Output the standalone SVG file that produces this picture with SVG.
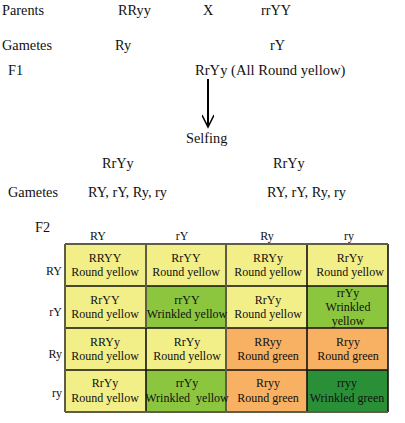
<svg xmlns="http://www.w3.org/2000/svg" width="405" height="423" viewBox="0 0 405 423">
<style>
text{font-family:"Liberation Serif","Times New Roman",serif;fill:#111;}
.t{font-size:14.3px;}
.h{font-size:12px;}
.c{font-size:12px;text-anchor:middle;}
.y{fill:#f2ee88;}
.g{fill:#8cc63e;}
.o{fill:#f8b062;}
.d{fill:#2a9038;}
.gl{stroke:#5e5e48;stroke-width:2;fill:none;}
.bl{stroke:#111;stroke-width:1.6;fill:none;}
</style>
<defs>
<marker id="ah" markerWidth="16" markerHeight="12" refX="13" refY="6" orient="auto" markerUnits="userSpaceOnUse">
<path d="M1,0 L13,6 L1,12" fill="none" stroke="#000" stroke-width="1.5"/>
</marker>
</defs>
<rect width="405" height="423" fill="#fff"/>
<g id="header">
<text class="t" x="2" y="15">Parents</text>
<text class="t" x="118" y="15">RRyy</text>
<text class="t" x="203" y="15">X</text>
<text class="t" x="261" y="15">rrYY</text>
<text class="t" x="2" y="50">Gametes</text>
<text class="t" x="115" y="50">Ry</text>
<text class="t" x="270" y="50">rY</text>
<text class="t" x="8" y="75">F1</text>
<text class="t" x="195" y="75" style="font-size:14.6px">RrYy (All Round yellow)</text>
<text class="t" x="186" y="143">Selfing</text>
<text class="t" x="102" y="168">RrYy</text>
<text class="t" x="273" y="168">RrYy</text>
<text class="t" x="8" y="197">Gametes</text>
<text class="t" x="88" y="197">RY, rY, Ry, ry</text>
<text class="t" x="267" y="197">RY, rY, Ry, ry</text>
</g>
<g id="connectors">
<line x1="208" y1="79" x2="208" y2="127" stroke="#000" stroke-width="2" marker-end="url(#ah)"/>
</g>
<g id="labels">
<text class="t" x="35" y="232">F2</text>
<text class="c" x="98" y="240">RY</text>
<text class="c" x="182" y="240">rY</text>
<text class="c" x="267" y="240">Ry</text>
<text class="c" x="349" y="240">ry</text>
<text class="h" x="62" y="275" text-anchor="end">RY</text>
<text class="h" x="62" y="316" text-anchor="end">rY</text>
<text class="h" x="62" y="358" text-anchor="end">Ry</text>
<text class="h" x="62" y="397" text-anchor="end">ry</text>
</g>
<g id="cells">
<rect class="y" x="65" y="244" width="81" height="42"/>
<rect class="y" x="146" y="244" width="80" height="42"/>
<rect class="y" x="226" y="244" width="81" height="42"/>
<rect class="y" x="307" y="244" width="81" height="42"/>
<rect class="y" x="65" y="286" width="81" height="42"/>
<rect class="g" x="146" y="286" width="80" height="42"/>
<rect class="y" x="226" y="286" width="81" height="42"/>
<rect class="g" x="307" y="286" width="81" height="42"/>
<rect class="y" x="65" y="328" width="81" height="42"/>
<rect class="y" x="146" y="328" width="80" height="42"/>
<rect class="o" x="226" y="328" width="81" height="42"/>
<rect class="o" x="307" y="328" width="81" height="42"/>
<rect class="y" x="65" y="370" width="81" height="42"/>
<rect class="g" x="146" y="370" width="80" height="42"/>
<rect class="o" x="226" y="370" width="81" height="42"/>
<rect class="d" x="307" y="370" width="81" height="42"/>
</g>
<g id="grid">
<path class="bl" d="M65,286 H388 M65,328 H388 M65,370 H388 M146,328 V412 M307,244 V412 M388,244 V412"/>
<path class="gl" d="M146,244 V328 M226,244 V412 M65,244 H388 M65,244 V412 M65,412 H388"/>
</g>
<g id="cell-text">
<text class="c" x="105" y="262">RRYY</text><text class="c" x="105" y="276">Round yellow</text>
<text class="c" x="186" y="262">RrYY</text><text class="c" x="186" y="276">Round yellow</text>
<text class="c" x="268" y="262">RRYy</text><text class="c" x="268" y="276">Round yellow</text>
<text class="c" x="350" y="262">RrYy</text><text class="c" x="350" y="276">Round yellow</text>
<text class="c" x="105" y="304">RrYY</text><text class="c" x="105" y="318">Round yellow</text>
<text class="c" x="187" y="304">rrYY</text><text class="c" x="187" y="318">Wrinkled yellow</text>
<text class="c" x="268" y="304">RrYy</text><text class="c" x="268" y="318">Round yellow</text>
<text class="c" x="348" y="297">rrYy</text><text class="c" x="348" y="311">Wrinkled</text><text class="c" x="348" y="325">yellow</text>
<text class="c" x="105" y="346">RRYy</text><text class="c" x="105" y="360">Round yellow</text>
<text class="c" x="187" y="346">RrYy</text><text class="c" x="187" y="360">Round yellow</text>
<text class="c" x="268" y="346">RRyy</text><text class="c" x="268" y="360">Round green</text>
<text class="c" x="348" y="346">Rryy</text><text class="c" x="348" y="360">Round green</text>
<text class="c" x="105" y="387">RrYy</text><text class="c" x="105" y="402">Round yellow</text>
<text class="c" x="187" y="387">rrYy</text><text class="c" x="187" y="402">Wrinkled&#160; yellow</text>
<text class="c" x="268" y="387">Rryy</text><text class="c" x="268" y="402">Round green</text>
<text class="c" x="347" y="387">rryy</text><text class="c" x="347" y="402">Wrinkled green</text>
</g>
</svg>
